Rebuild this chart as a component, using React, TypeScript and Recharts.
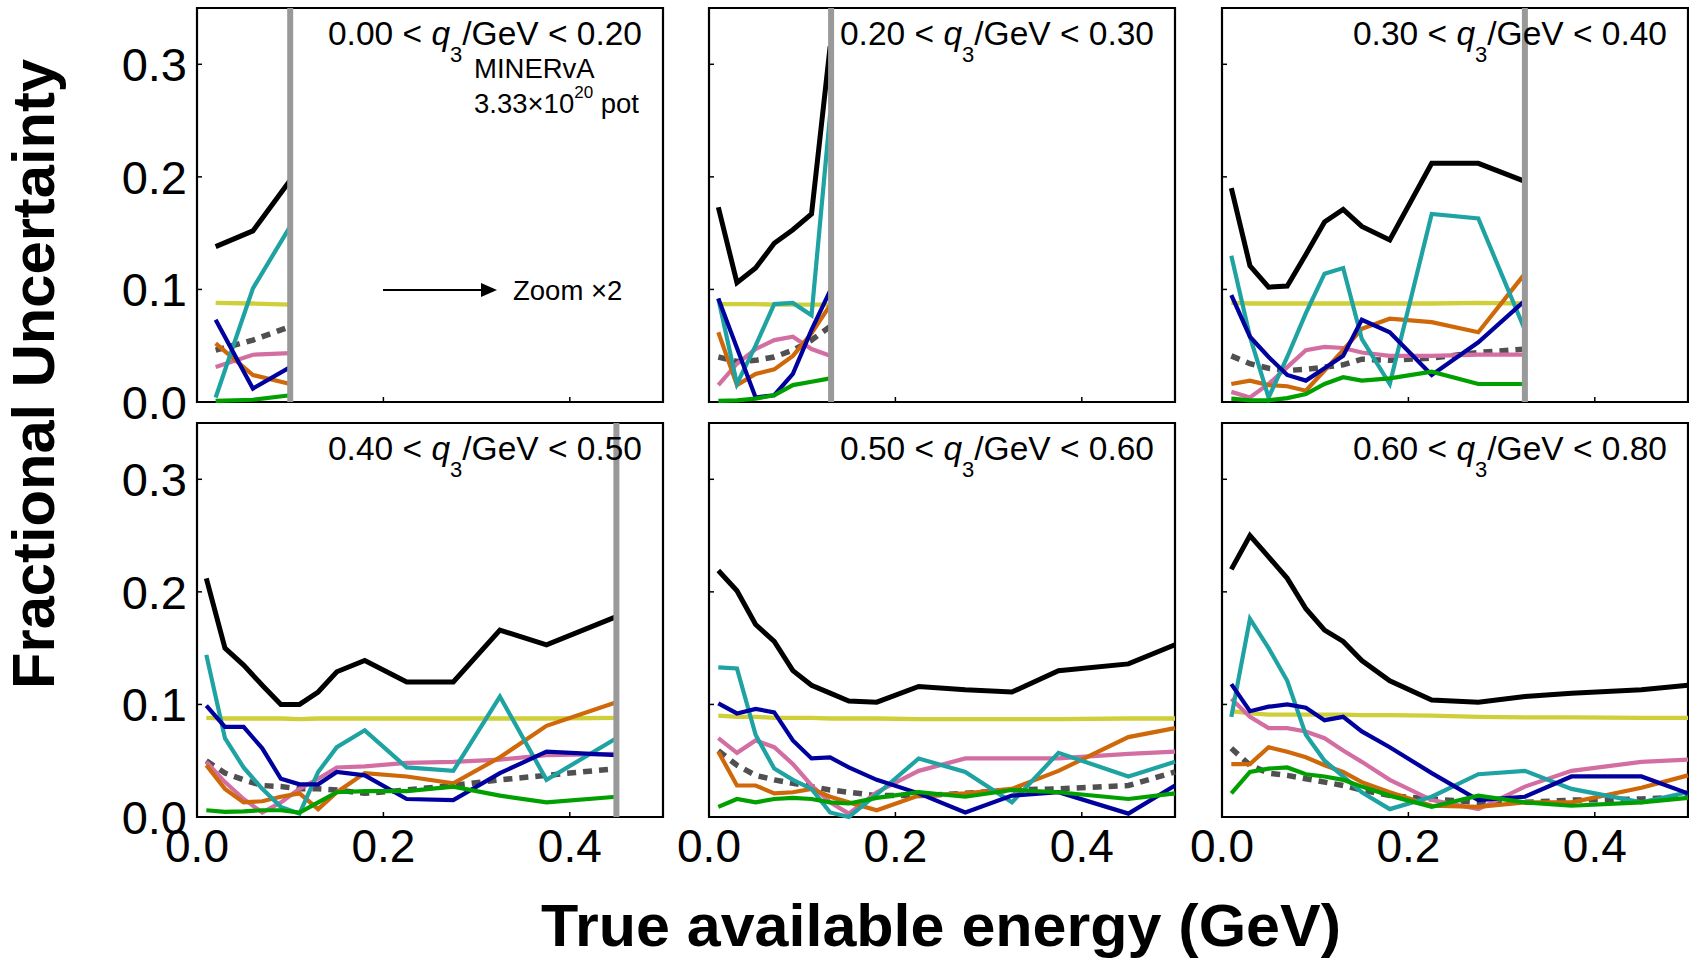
import React from 'react';
import { LineChart, Line, XAxis, YAxis, ReferenceLine, ReferenceArea } from 'recharts';

const FONT = '"Liberation Sans", Arial, Helvetica, sans-serif';

// x bin centres (GeV)
const xLow = [0.02, 0.06, 0.1];
const xBins = [0.01, 0.03, 0.05, 0.07, 0.09, 0.11, 0.13, 0.15, 0.18, 0.225, 0.275, 0.325, 0.375, 0.45, 0.5];
const xBins2 = [0.01, 0.03, 0.05, 0.07, 0.09, 0.11, 0.13];

const xTicks = [0, 0.2, 0.4];
const yTicks = [0, 0.1, 0.2, 0.3];
const q3Low = ['0.00', '0.20', '0.30', '0.40', '0.50', '0.60'];
const q3High = ['0.20', '0.30', '0.40', '0.50', '0.60', '0.80'];
const cuts = [0.1, 0.131, 0.325, 0.45, null, null];

// Panel 1: 0.00 < q3 < 0.20
const total1 = [0.138, 0.152, 0.197];
const yellow1 = [0.088, 0.0875, 0.0865];
const teal1 = [0.004, 0.101, 0.156];
const blue1 = [0.073, 0.012, 0.031];
const orange1 = [0.052, 0.024, 0.016];
const pink1 = [0.031, 0.042, 0.0435];
const green1 = [0.001, 0.002, 0.006];
const dashed1 = [0.046, 0.055, 0.067];

// Panel 2: 0.20 < q3 < 0.30
const total2 = [0.173, 0.106, 0.119, 0.141, 0.153, 0.167, 0.316];
const yellow2 = [0.087, 0.087, 0.087, 0.0865, 0.0865, 0.0865, 0.0865];
const teal2 = [0.092, 0.016, 0.05, 0.087, 0.088, 0.077, 0.256];
const blue2 = [0.092, 0.048, 0.004, 0.006, 0.025, 0.064, 0.099];
const orange2 = [0.062, 0.015, 0.025, 0.029, 0.041, 0.061, 0.086];
const pink2 = [0.015, 0.034, 0.047, 0.055, 0.058, 0.047, 0.041];
const green2 = [0.001, 0.0015, 0.003, 0.006, 0.015, 0.018, 0.021];
const dashed2 = [0.04, 0.036, 0.037, 0.04, 0.046, 0.055, 0.067];

// Panel 3: 0.30 < q3 < 0.40
const total3 = [0.19, 0.121, 0.102, 0.103, 0.131, 0.16, 0.171, 0.156, 0.144, 0.212, 0.212, 0.196];
const yellow3 = [0.088, 0.0875, 0.0875, 0.0875, 0.0875, 0.0875, 0.0875, 0.0875, 0.0875, 0.0875, 0.088, 0.0875];
const teal3 = [0.13, 0.058, 0.004, 0.04, 0.079, 0.114, 0.119, 0.056, 0.016, 0.167, 0.163, 0.064];
const blue3 = [0.095, 0.058, 0.04, 0.024, 0.019, 0.03, 0.041, 0.073, 0.062, 0.024, 0.053, 0.09];
const orange3 = [0.016, 0.019, 0.015, 0.014, 0.01, 0.028, 0.046, 0.065, 0.074, 0.071, 0.062, 0.114];
const pink3 = [0.009, 0.004, 0.016, 0.031, 0.046, 0.049, 0.048, 0.044, 0.041, 0.041, 0.042, 0.042];
const green3 = [0.003, 0.0015, 0.0015, 0.0035, 0.007, 0.016, 0.022, 0.019, 0.021, 0.027, 0.016, 0.016];
const dashed3 = [0.041, 0.034, 0.03, 0.028, 0.029, 0.031, 0.033, 0.038, 0.037, 0.039, 0.044, 0.047];

// Panel 4: 0.40 < q3 < 0.50
const total4 = [0.212, 0.15, 0.135, 0.117, 0.1, 0.1, 0.111, 0.129, 0.139, 0.12, 0.12, 0.166, 0.153, 0.178];
const yellow4 = [0.088, 0.0875, 0.0875, 0.0875, 0.0875, 0.087, 0.0875, 0.0875, 0.0875, 0.0875, 0.0875, 0.0875, 0.0875, 0.088];
const teal4 = [0.144, 0.07, 0.044, 0.025, 0.009, 0.003, 0.04, 0.062, 0.077, 0.044, 0.041, 0.107, 0.033, 0.07];
const blue4 = [0.099, 0.08, 0.08, 0.061, 0.034, 0.029, 0.029, 0.04, 0.037, 0.016, 0.015, 0.039, 0.058, 0.055];
const orange4 = [0.046, 0.025, 0.013, 0.014, 0.018, 0.021, 0.007, 0.022, 0.039, 0.036, 0.03, 0.053, 0.081, 0.102];
const pink4 = [0.049, 0.031, 0.016, 0.004, 0.013, 0.025, 0.034, 0.044, 0.045, 0.048, 0.049, 0.051, 0.055, 0.056];
const green4 = [0.006, 0.0045, 0.005, 0.006, 0.006, 0.004, 0.013, 0.022, 0.023, 0.023, 0.027, 0.019, 0.013, 0.018];
const dashed4 = [0.05, 0.039, 0.033, 0.028, 0.027, 0.025, 0.025, 0.024, 0.021, 0.024, 0.028, 0.033, 0.037, 0.043];

// Panel 5: 0.50 < q3 < 0.60
const total5 = [0.219, 0.201, 0.171, 0.156, 0.13, 0.117, 0.11, 0.103, 0.102, 0.116, 0.113, 0.111, 0.13, 0.136, 0.153];
const yellow5 = [0.09, 0.089, 0.089, 0.088, 0.088, 0.088, 0.0875, 0.0875, 0.0875, 0.087, 0.087, 0.087, 0.087, 0.0875, 0.0875];
const teal5 = [0.133, 0.132, 0.073, 0.043, 0.033, 0.025, 0.004, 0.0, 0.02, 0.052, 0.04, 0.013, 0.057, 0.036, 0.049];
const blue5 = [0.101, 0.092, 0.096, 0.093, 0.068, 0.052, 0.053, 0.044, 0.033, 0.021, 0.004, 0.019, 0.022, 0.003, 0.028];
const orange5 = [0.058, 0.028, 0.028, 0.021, 0.022, 0.025, 0.018, 0.013, 0.006, 0.019, 0.021, 0.025, 0.041, 0.071, 0.079];
const pink5 = [0.07, 0.057, 0.068, 0.062, 0.047, 0.028, 0.013, 0.003, 0.022, 0.041, 0.052, 0.052, 0.052, 0.056, 0.058];
const green5 = [0.009, 0.016, 0.013, 0.016, 0.017, 0.016, 0.013, 0.012, 0.017, 0.022, 0.018, 0.024, 0.022, 0.016, 0.021];
const dashed5 = [0.059, 0.046, 0.037, 0.033, 0.03, 0.027, 0.024, 0.022, 0.019, 0.019, 0.021, 0.024, 0.025, 0.028, 0.04];

// Panel 6: 0.60 < q3 < 0.80
const total6 = [0.22, 0.25, 0.231, 0.212, 0.185, 0.166, 0.156, 0.139, 0.121, 0.104, 0.102, 0.107, 0.11, 0.113, 0.117];
const yellow6 = [0.094, 0.092, 0.091, 0.091, 0.091, 0.091, 0.091, 0.0905, 0.0905, 0.09, 0.089, 0.0885, 0.0885, 0.088, 0.088];
const teal6 = [0.089, 0.176, 0.15, 0.121, 0.073, 0.05, 0.036, 0.022, 0.007, 0.018, 0.038, 0.041, 0.025, 0.013, 0.022];
const blue6 = [0.118, 0.094, 0.098, 0.1, 0.097, 0.086, 0.089, 0.076, 0.062, 0.039, 0.015, 0.018, 0.036, 0.036, 0.021];
const orange6 = [0.047, 0.047, 0.062, 0.058, 0.053, 0.046, 0.04, 0.031, 0.022, 0.01, 0.009, 0.013, 0.013, 0.026, 0.037];
const pink6 = [0.105, 0.089, 0.079, 0.079, 0.076, 0.07, 0.059, 0.049, 0.033, 0.015, 0.007, 0.027, 0.041, 0.049, 0.051];
const green6 = [0.021, 0.04, 0.043, 0.044, 0.038, 0.036, 0.033, 0.027, 0.019, 0.009, 0.019, 0.013, 0.01, 0.013, 0.017];
const dashed6 = [0.061, 0.046, 0.039, 0.037, 0.034, 0.031, 0.028, 0.024, 0.019, 0.016, 0.013, 0.013, 0.015, 0.016, 0.018];

const SERIES = [
  { key: 'yellow', color: '#cfcf3a', width: 4.3, dash: undefined as string | undefined },
  { key: 'dashed', color: '#505050', width: 5.5, dash: '9 7' },
  { key: 'pink', color: '#d36ea3', width: 4.2, dash: undefined },
  { key: 'orange', color: '#cf6808', width: 4.2, dash: undefined },
  { key: 'teal', color: '#1ea2a2', width: 4.2, dash: undefined },
  { key: 'blue', color: '#00009e', width: 4.2, dash: undefined },
  { key: 'green', color: '#00a000', width: 4.2, dash: undefined },
  { key: 'total', color: '#000000', width: 5, dash: undefined },
];

function makeRows(xs: number[], s: Record<string, number[]>) {
  return xs.map((x, i) => {
    const r: Record<string, number> = { x };
    Object.keys(s).forEach((k) => {
      r[k] = s[k][i];
    });
    return r;
  });
}

const panelRows = [
  makeRows(xLow, { total: total1, yellow: yellow1, teal: teal1, blue: blue1, orange: orange1, pink: pink1, green: green1, dashed: dashed1 }),
  makeRows(xBins2, { total: total2, yellow: yellow2, teal: teal2, blue: blue2, orange: orange2, pink: pink2, green: green2, dashed: dashed2 }),
  makeRows(xBins.slice(0, 12), { total: total3, yellow: yellow3, teal: teal3, blue: blue3, orange: orange3, pink: pink3, green: green3, dashed: dashed3 }),
  makeRows(xBins.slice(0, 14), { total: total4, yellow: yellow4, teal: teal4, blue: blue4, orange: orange4, pink: pink4, green: green4, dashed: dashed4 }),
  makeRows(xBins, { total: total5, yellow: yellow5, teal: teal5, blue: blue5, orange: orange5, pink: pink5, green: green5, dashed: dashed5 }),
  makeRows(xBins, { total: total6, yellow: yellow6, teal: teal6, blue: blue6, orange: orange6, pink: pink6, green: green6, dashed: dashed6 }),
];

const PLOT_L = [197, 709, 1222];
const PLOT_T = [8, 423];
const PLOT_W = 466;
const PLOT_H = 394;

function Panel({ idx }: { idx: number }) {
  const col = idx % 3;
  const row = Math.floor(idx / 3);
  const showY = col === 0;
  const showX = row === 1;
  const yw = showY ? 197 : 45;
  const mr = col === 2 ? 1 : 10;
  const xh = showX ? 60 : 30;
  const W = yw + PLOT_W + mr;
  const H = 8 + PLOT_H + xh;
  const cut = cuts[idx];
  return (
    <div style={{ position: 'absolute', left: PLOT_L[col] - yw, top: PLOT_T[row] - 8 }}>
      <LineChart width={W} height={H} data={panelRows[idx]} margin={{ top: 8, right: mr, bottom: 0, left: 0 }}>
        <XAxis
          dataKey="x"
          type="number"
          domain={[0, 0.5]}
          ticks={xTicks}
          interval={0}
          height={xh}
          axisLine={false}
          tickSize={-5}
          tickMargin={17}
          tickLine={{ stroke: '#000', strokeWidth: 1.5 }}
          tick={{ fontSize: 46, fill: '#000', fontFamily: FONT }}
          tickFormatter={(v: number) => (showX ? v.toFixed(1) : '')}
        />
        <YAxis
          type="number"
          domain={[0, 0.35]}
          ticks={yTicks}
          interval={0}
          width={yw}
          axisLine={false}
          tickSize={-5}
          tickMargin={15}
          tickLine={{ stroke: '#000', strokeWidth: 1.5 }}
          tick={{ fontSize: 47, fill: '#000', fontFamily: FONT }}
          tickFormatter={(v: number) => (showY ? v.toFixed(1) : '')}
        />
        <ReferenceArea x1={0} x2={0.5} y1={0} y2={0.35} fill="none" stroke="#000" strokeWidth={2.2} />
        {SERIES.map((s) => (
          <Line
            key={s.key}
            dataKey={s.key}
            type="linear"
            stroke={s.color}
            strokeWidth={s.width}
            strokeDasharray={s.dash}
            dot={false}
            activeDot={false}
            isAnimationActive={false}
          />
        ))}
        {cut !== null && <ReferenceLine x={cut} stroke="#999999" strokeWidth={6} />}
      </LineChart>
    </div>
  );
}

function PanelLabel({ idx }: { idx: number }) {
  const col = idx % 3;
  const row = Math.floor(idx / 3);
  const rx = PLOT_L[col] + PLOT_W - 21;
  const by = row === 0 ? 45 : 460;
  return (
    <text x={rx} y={by} textAnchor="end" fontSize={33.5} fontFamily={FONT} fill="#000">
      {q3Low[idx] + ' < '}
      <tspan fontStyle="italic">q</tspan>
      <tspan fontSize={22} dy={17}>3</tspan>
      <tspan dy={-17}>{'/GeV < ' + q3High[idx]}</tspan>
    </text>
  );
}

export default function App() {
  return (
    <div style={{ position: 'absolute', left: 0, top: 0, width: 1689, height: 962, background: '#fff', overflow: 'hidden' }}>
      {[0, 1, 2, 3, 4, 5].map((i) => (
        <Panel key={i} idx={i} />
      ))}
      <svg width={1689} height={962} style={{ position: 'absolute', left: 0, top: 0, pointerEvents: 'none' }}>
        {[0, 1, 2, 3, 4, 5].map((i) => (
          <PanelLabel key={i} idx={i} />
        ))}
        <text x={474} y={78} fontSize={27.5} fontFamily={FONT} fill="#000">MINERvA</text>
        <text x={474} y={113} fontSize={27.5} fontFamily={FONT} fill="#000">
          3.33×10
          <tspan fontSize={17} dy={-15}>20</tspan>
          <tspan dy={15}> pot</tspan>
        </text>
        <line x1={383} y1={290} x2={485} y2={290} stroke="#000" strokeWidth={1.8} />
        <polygon points="481,283 497,290 481,297" fill="#000" />
        <text x={513} y={300} fontSize={27.5} fontFamily={FONT} fill="#000">Zoom ×2</text>
        <text
          x={54}
          y={374}
          transform="rotate(-90, 54, 374)"
          textAnchor="middle"
          fontSize={59}
          fontWeight="bold"
          fontFamily={FONT}
          textLength={630}
          lengthAdjust="spacingAndGlyphs"
          fill="#000"
        >
          Fractional Uncertainty
        </text>
        <text
          x={941}
          y={946}
          textAnchor="middle"
          fontSize={59}
          fontWeight="bold"
          fontFamily={FONT}
          textLength={800}
          lengthAdjust="spacingAndGlyphs"
          fill="#000"
        >
          True available energy (GeV)
        </text>
      </svg>
    </div>
  );
}
